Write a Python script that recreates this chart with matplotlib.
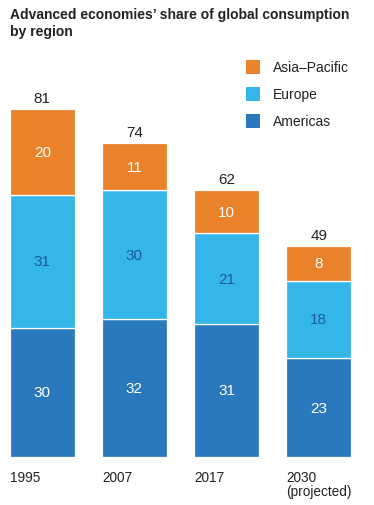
import matplotlib
matplotlib.use("Agg")
import matplotlib.pyplot as plt
from matplotlib.patches import Rectangle
from matplotlib.transforms import Affine2D

plt.rcParams['font.family'] = ['Liberation Sans', 'DejaVu Sans']

# Data
categories = ["1995", "2007", "2017", "2030\n(projected)"]
americas = [30, 32, 31, 23]
europe = [31, 30, 21, 18]
asia_pacific = [20, 11, 10, 8]
totals = [81, 74, 62, 49]
series_names = ["Americas", "Europe", "Asia\u2013Pacific"]

colors = {"Americas": "#2979BC", "Europe": "#34B6E8", "Asia\u2013Pacific": "#E9822B"}
text_colors = {"Americas": "white", "Europe": "#1D5C97", "Asia\u2013Pacific": "white"}

W, H = 374, 506
fig = plt.figure(figsize=(W / 100, H / 100), dpi=100)
fig.patch.set_facecolor("white")

# pixel -> figure transform (y from top)
px = Affine2D().scale(1 / W, -1 / H).translate(0, 1) + fig.transFigure

left_px, right_px, bottom_px = 10, 351, 458
ymax = 90
ppu = 4.3
top_px = bottom_px - ymax * ppu
ax = fig.add_axes([left_px / W, (H - bottom_px) / H, (right_px - left_px) / W,
                   (bottom_px - top_px) / H])
width = 0.70
ax.set_xlim(-width / 2, len(categories) - 1 + width / 2)
ax.set_ylim(0, ymax)
ax.axis("off")

x = list(range(len(categories)))
bottoms = [0] * len(categories)
for name, vals in zip(series_names, [americas, europe, asia_pacific]):
    bars = ax.bar(x, vals, width=width, bottom=bottoms, color=colors[name],
                  edgecolor="white", linewidth=0.9)
    for xi, b, v in zip(x, bottoms, vals):
        ax.text(xi, b + v / 2, str(v), ha="center", va="center",
                fontsize=11, color=text_colors[name])
    bottoms = [b + v for b, v in zip(bottoms, vals)]

for xi, top, t in zip(x, bottoms, totals):
    ax.text(xi, top + 2.6, str(t), ha="center", va="center", fontsize=11,
            color="#222222")

for xi, c in zip(x, categories):
    ax.text(xi - width / 2, -3.0, c, ha="left", va="top", fontsize=9.8,
            color="#222222", linespacing=1.0)

# Title
fig.text(10, 15, "Advanced economies\u2019 share of global consumption",
         transform=px, fontsize=10, fontweight="bold", ha="left", va="center",
         color="#222222")
fig.text(10, 32, "by region", transform=px, fontsize=10, fontweight="bold",
         ha="left", va="center", color="#222222")

# Legend (manual)
leg_y = [68, 95, 122]
for name, yc in zip(["Asia\u2013Pacific", "Europe", "Americas"], leg_y):
    fig.add_artist(Rectangle((246, yc - 7), 14, 14, transform=px,
                             facecolor=colors[name], edgecolor="none"))
    fig.text(273, yc, name, transform=px, fontsize=10, ha="left",
             va="center", color="#222222")

fig.savefig("out.png", dpi=100, facecolor="white")
